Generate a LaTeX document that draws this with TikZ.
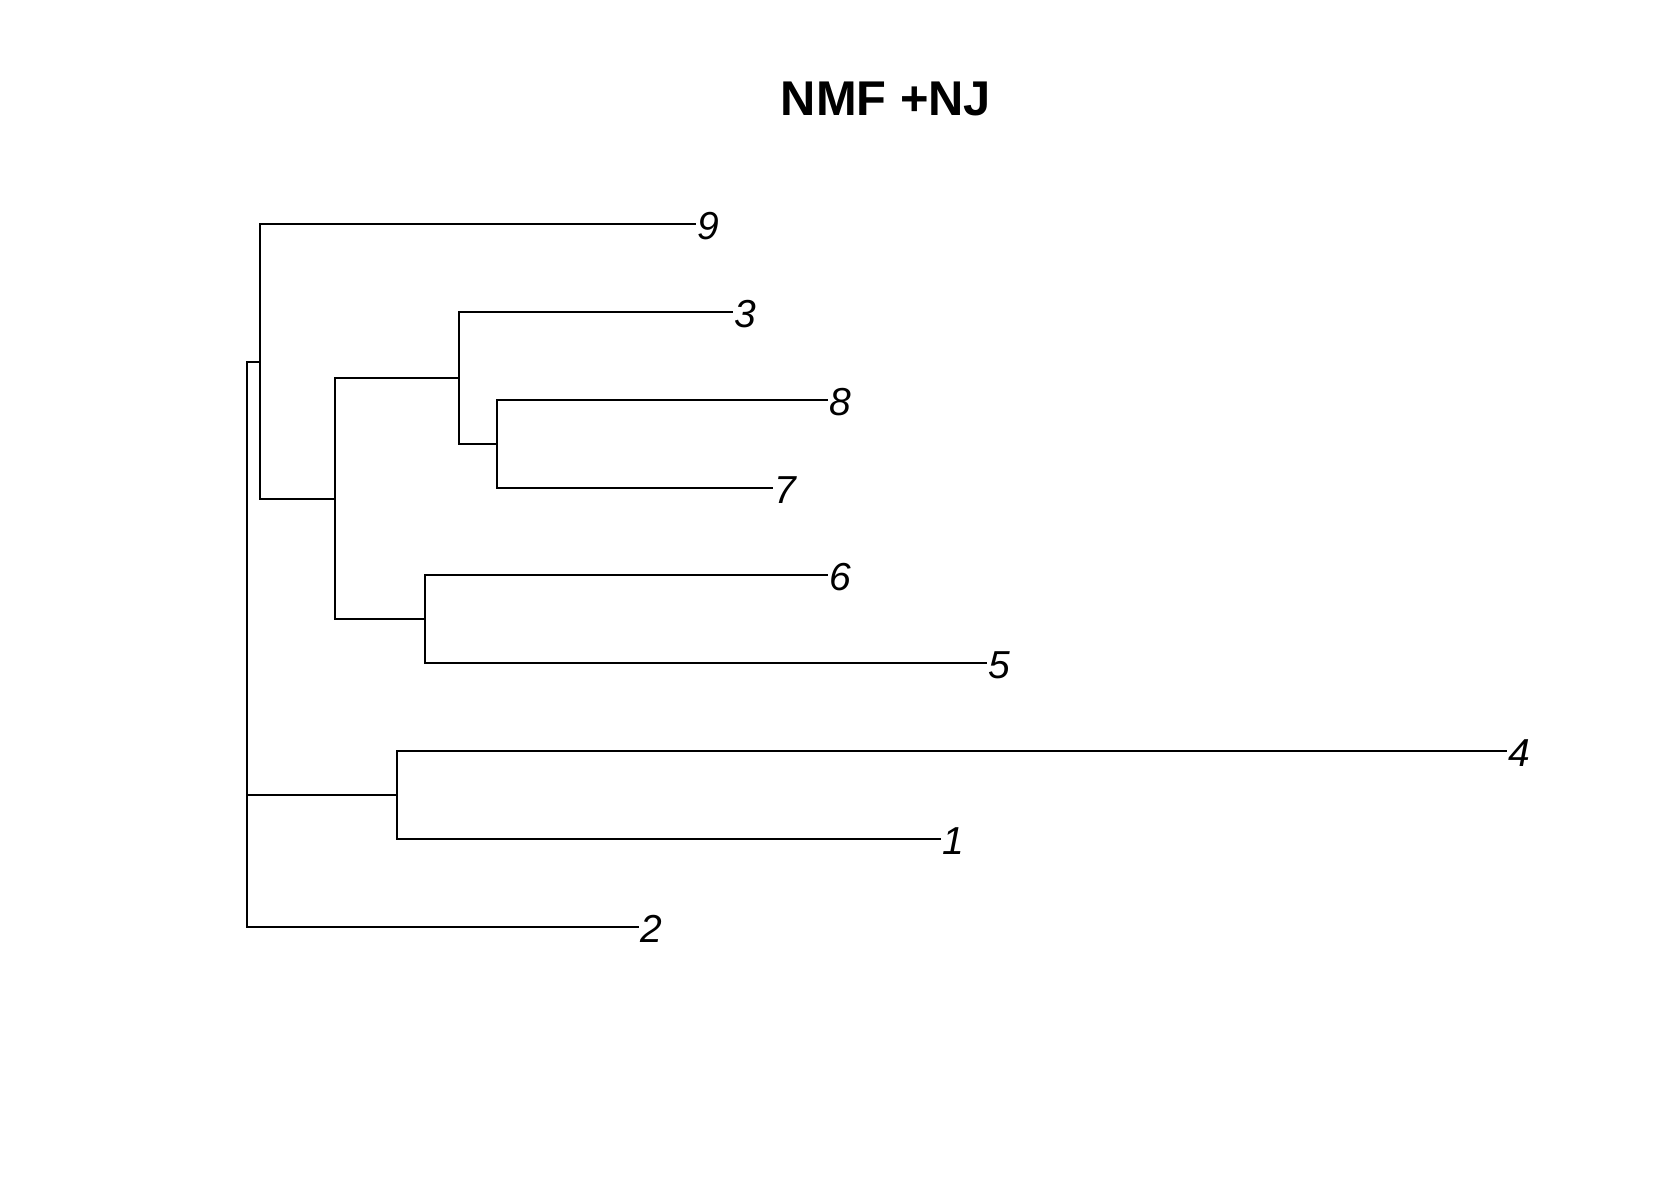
\documentclass[tikz,border=0pt]{standalone}
\usepackage{fontspec}
\setmainfont{Liberation Sans}
\begin{document}
\begin{tikzpicture}[x=0.5pt,y=-0.5pt,
  branch/.style={line width=0.85pt,black},
  tiplabel/.style={anchor=west,inner sep=0pt,xshift=0.6pt,yshift=-1pt,font=\fontsize{19.5}{20}\selectfont\itshape},
  titlestyle/.style={inner sep=0pt,font=\fontsize{24.4}{26}\selectfont\bfseries}]
\useasboundingbox (0,0) rectangle (1680,1200);
\fill[white] (0,0) rectangle (1680,1200);
% title
\node[titlestyle] (title) at (886,99) {NMF +NJ};
% internal nodes
\coordinate (root) at (247,644);
\coordinate (nA) at (260,362);
\coordinate (nB) at (335,499);
\coordinate (nC) at (459,378);
\coordinate (nE) at (497,444);
\coordinate (nD) at (425,619);
\coordinate (nF) at (397,795);
% tips
\coordinate (t9) at (696,224);
\coordinate (t3) at (733.3,312);
\coordinate (t8) at (828.3,400);
\coordinate (t7) at (773.3,487.7);
\coordinate (t6) at (828.3,575.3);
\coordinate (t5) at (987.3,663);
\coordinate (t4) at (1507,751);
\coordinate (t1) at (940.7,839);
\coordinate (t2) at (639.3,926.7);
% edges
\draw[branch] (root) |- (nA);
\draw[branch] (root) |- (nF);
\draw[branch] (root) |- (t2);
\draw[branch] (nA) |- (t9);
\draw[branch] (nA) |- (nB);
\draw[branch] (nB) |- (nC);
\draw[branch] (nB) |- (nD);
\draw[branch] (nC) |- (t3);
\draw[branch] (nC) |- (nE);
\draw[branch] (nE) |- (t8);
\draw[branch] (nE) |- (t7);
\draw[branch] (nD) |- (t6);
\draw[branch] (nD) |- (t5);
\draw[branch] (nF) |- (t4);
\draw[branch] (nF) |- (t1);
% labels
\node[tiplabel] (l9) at (t9) {9};
\node[tiplabel] (l3) at (t3) {3};
\node[tiplabel] (l8) at (t8) {8};
\node[tiplabel] (l7) at (t7) {7};
\node[tiplabel] (l6) at (t6) {6};
\node[tiplabel] (l5) at (t5) {5};
\node[tiplabel] (l4) at (t4) {4};
\node[tiplabel] (l1) at (t1) {1};
\node[tiplabel] (l2) at (t2) {2};
\end{tikzpicture}
\end{document}
